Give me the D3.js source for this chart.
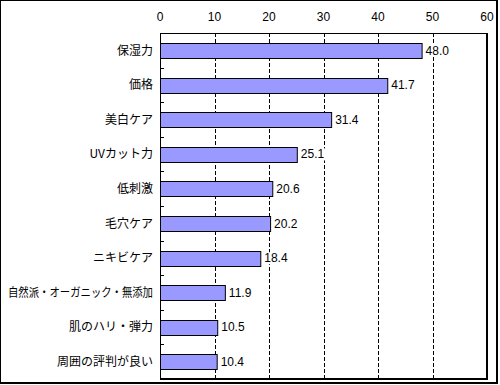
<!DOCTYPE html>
<html>
<head>
<meta charset="utf-8">
<script src="https://cdn.jsdelivr.net/npm/d3@7"></script>
<style>
  html, body { margin: 0; padding: 0; background: #fff; }
  svg { display: block; }
  text { font-family: "Noto Sans CJK JP", sans-serif; font-size: 12px; fill: #000; }
  text.num { font-family: "Liberation Sans Narrow", "Liberation Sans", sans-serif; font-size: 12px; }
</style>
</head>
<body>
<div id="chart"></div>
<script>
// 項目と値（%）
const categories = ['保湿力', '価格', '美白ケア', 'UVカット力', '低刺激', '毛穴ケア', 'ニキビケア', '自然派・オーガニック・無添加', '肌のハリ・弾力', '周囲の評判が良い'];
const values = [48.0, 41.7, 31.4, 25.1, 20.6, 20.2, 18.4, 11.9, 10.5, 10.4];
const xTicks = [0, 10, 20, 30, 40, 50, 60];

const width = 500;
const height = 385;
const plot = { left: 160, top: 33, right: 487, bottom: 379 };

const svg = d3.select('#chart')
    .append('svg')
    .attr('width', width)
    .attr('height', height);

// 外枠
svg.append('rect')
    .attr('x', 0.5).attr('y', 0.5)
    .attr('width', 496).attr('height', 382)
    .attr('fill', 'none').attr('stroke', '#000');
svg.append('line').attr('x1', 497.5).attr('x2', 497.5).attr('y1', 0).attr('y2', 384).attr('stroke', '#000');
svg.append('line').attr('x1', 0).attr('x2', 498).attr('y1', 383.5).attr('y2', 383.5).attr('stroke', '#000');

const x = d3.scaleLinear().domain([0, 60]).range([plot.left, plot.right]);
const y = d3.scaleBand()
    .domain(categories)
    .range([plot.top, plot.bottom])
    .paddingInner(0.58)
    .paddingOuter(0.29);
const step = y.step();

// グリッド線（破線）
svg.append('g')
    .selectAll('line')
    .data(xTicks.filter(t => t > 0 && t < 60))
    .join('line')
    .attr('x1', d => Math.round(x(d)) + 0.5)
    .attr('x2', d => Math.round(x(d)) + 0.5)
    .attr('y1', plot.top)
    .attr('y2', plot.bottom)
    .attr('stroke', '#000')
    .attr('stroke-dasharray', '4,2');

// 上の目盛りラベル
svg.append('g')
    .selectAll('text')
    .data(xTicks)
    .join('text')
    .attr('class', 'num')
    .attr('x', d => x(d))
    .attr('y', 21)
    .attr('text-anchor', 'middle')
    .text(d => d);

// 棒
const rows = categories.map((c, i) => ({ name: c, value: values[i] }));
svg.append('g')
    .selectAll('rect')
    .data(rows)
    .join('rect')
    .attr('x', plot.left + 0.5)
    .attr('y', d => Math.round(y(d.name)) + 0.5)
    .attr('width', d => x(d.value) - plot.left)
    .attr('height', Math.round(y.bandwidth()))
    .attr('fill', '#9999ff')
    .attr('stroke', '#000');

// 値ラベル（白地でグリッドを隠す）
const valueG = svg.append('g');
const valueLabels = valueG.selectAll('g')
    .data(rows)
    .join('g');
valueLabels.append('text')
    .attr('class', 'num')
    .attr('x', d => x(d.value) + 4)
    .attr('y', d => y(d.name) + y.bandwidth() / 2)
    .attr('dy', '0.36em')
    .text(d => d.value.toFixed(1));
valueLabels.each(function () {
    const t = d3.select(this).select('text');
    const b = t.node().getBBox();
    d3.select(this).insert('rect', 'text')
        .attr('x', b.x - 1).attr('y', b.y + 1)
        .attr('width', b.width + 2).attr('height', b.height - 2)
        .attr('fill', '#fff');
});

// 項目ラベル
svg.append('g')
    .selectAll('text')
    .data(rows)
    .join('text')
    .attr('x', plot.left - 7)
    .attr('y', d => y(d.name) + y.bandwidth() / 2)
    .attr('dy', '0.36em')
    .attr('text-anchor', 'end')
    .text(d => d.name)
    .each(function () {
        // 枠に収まらない長いラベルは詰める
        const maxW = plot.left - 15;
        if (this.getComputedTextLength() > maxW) {
            d3.select(this).attr('textLength', maxW).attr('lengthAdjust', 'spacingAndGlyphs');
        }
    });

// 項目境界の目盛り
svg.append('g')
    .selectAll('line')
    .data(d3.range(1, categories.length))
    .join('line')
    .attr('x1', plot.left)
    .attr('x2', plot.left + 4)
    .attr('y1', d => Math.round(plot.top + step * d) + 0.5)
    .attr('y2', d => Math.round(plot.top + step * d) + 0.5)
    .attr('stroke', '#000');

// プロット枠
svg.append('rect')
    .attr('x', plot.left + 0.5).attr('y', plot.top + 0.5)
    .attr('width', plot.right - plot.left - 1).attr('height', plot.bottom - plot.top - 1)
    .attr('fill', 'none').attr('stroke', '#000');
svg.append('line').attr('x1', plot.right + 0.5).attr('x2', plot.right + 0.5)
    .attr('y1', plot.top).attr('y2', plot.bottom + 1).attr('stroke', '#000');
svg.append('line').attr('x1', plot.left).attr('x2', plot.right + 1)
    .attr('y1', plot.bottom + 0.5).attr('y2', plot.bottom + 0.5).attr('stroke', '#000');
</script>
</body>
</html>
